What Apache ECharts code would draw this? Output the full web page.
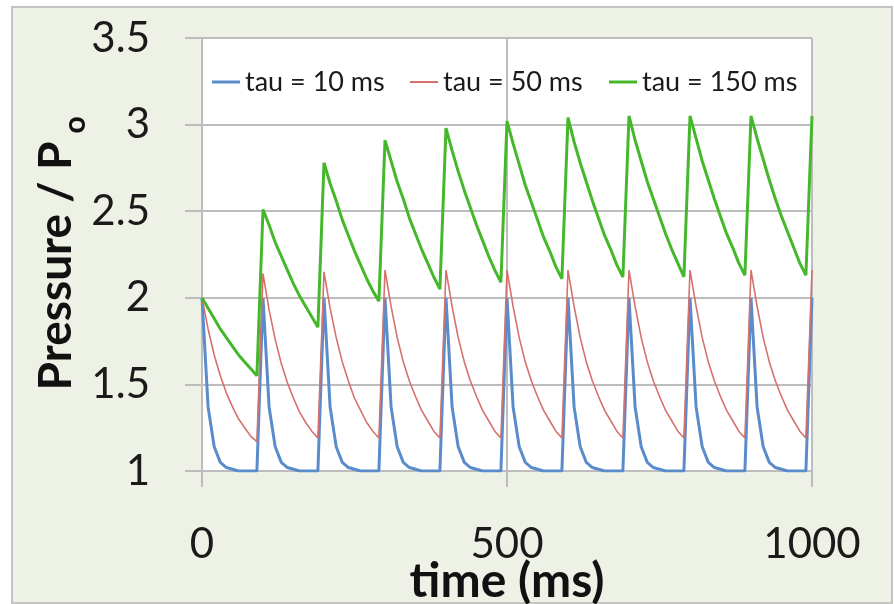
<!DOCTYPE html>
<html>
<head>
<meta charset="utf-8">
<script src="https://cdn.jsdelivr.net/npm/echarts@6/dist/echarts.min.js"></script>
<style>
html,body{margin:0;padding:0;background:#ffffff;}
#chart{width:894px;height:604px;}
</style>
</head>
<body>
<div id="chart"></div>
<script>
// time samples (ms)
var time = [0,10,20,30,40,50,60,70,80,90,100,110,120,130,140,150,160,170,180,190,200,210,220,230,240,250,260,270,280,290,300,310,320,330,340,350,360,370,380,390,400,410,420,430,440,450,460,470,480,490,500,510,520,530,540,550,560,570,580,590,600,610,620,630,640,650,660,670,680,690,700,710,720,730,740,750,760,770,780,790,800,810,820,830,840,850,860,870,880,890,900,910,920,930,940,950,960,970,980,990,1000];

var seriesNames = ['tau = 10 ms', 'tau = 50 ms', 'tau = 150 ms'];

var tau10 = [
2.00,1.37,1.14,1.05,1.02,1.01,1.00,1.00,1.00,1.00,
2.00,1.37,1.14,1.05,1.02,1.01,1.00,1.00,1.00,1.00,
2.00,1.37,1.14,1.05,1.02,1.01,1.00,1.00,1.00,1.00,
2.00,1.37,1.14,1.05,1.02,1.01,1.00,1.00,1.00,1.00,
2.00,1.37,1.14,1.05,1.02,1.01,1.00,1.00,1.00,1.00,
2.00,1.37,1.14,1.05,1.02,1.01,1.00,1.00,1.00,1.00,
2.00,1.37,1.14,1.05,1.02,1.01,1.00,1.00,1.00,1.00,
2.00,1.37,1.14,1.05,1.02,1.01,1.00,1.00,1.00,1.00,
2.00,1.37,1.14,1.05,1.02,1.01,1.00,1.00,1.00,1.00,
2.00,1.37,1.14,1.05,1.02,1.01,1.00,1.00,1.00,1.00,
2.00];

var tau50 = [
2.00,1.82,1.67,1.55,1.45,1.37,1.30,1.25,1.20,1.17,
2.14,1.93,1.76,1.62,1.51,1.42,1.34,1.28,1.23,1.19,
2.15,1.94,1.77,1.63,1.52,1.42,1.35,1.28,1.23,1.19,
2.16,1.95,1.77,1.63,1.52,1.43,1.35,1.29,1.23,1.19,
2.16,1.95,1.77,1.63,1.52,1.43,1.35,1.29,1.23,1.19,
2.16,1.95,1.77,1.63,1.52,1.43,1.35,1.29,1.23,1.19,
2.16,1.95,1.77,1.63,1.52,1.43,1.35,1.29,1.23,1.19,
2.16,1.95,1.77,1.63,1.52,1.43,1.35,1.29,1.23,1.19,
2.16,1.95,1.77,1.63,1.52,1.43,1.35,1.29,1.23,1.19,
2.16,1.95,1.77,1.63,1.52,1.43,1.35,1.29,1.23,1.19,
2.16];

var tau150 = [
2.00,1.94,1.88,1.82,1.77,1.72,1.67,1.63,1.59,1.55,
2.51,2.42,2.32,2.24,2.16,2.08,2.01,1.95,1.89,1.83,
2.78,2.66,2.56,2.45,2.36,2.27,2.19,2.11,2.04,1.98,
2.91,2.79,2.67,2.57,2.46,2.37,2.28,2.20,2.12,2.05,
2.98,2.85,2.73,2.62,2.52,2.42,2.33,2.24,2.16,2.09,
3.02,2.89,2.77,2.65,2.55,2.45,2.35,2.27,2.18,2.11,
3.04,2.90,2.78,2.67,2.56,2.46,2.36,2.28,2.19,2.12,
3.05,2.91,2.79,2.67,2.57,2.47,2.37,2.28,2.20,2.12,
3.05,2.92,2.79,2.68,2.57,2.47,2.37,2.29,2.20,2.13,
3.05,2.92,2.80,2.68,2.57,2.47,2.38,2.29,2.20,2.13,
3.05];

var xTitle = 'time (ms)';
var yTitle = 'Pressure / P';
var yTitleSub = 'o';

function pairs(vals){ return time.map(function(t,i){ return [t, vals[i]]; }); }

var colors = ['#5a8ccc', '#d6706c', '#44b82a'];
var widths = [3, 1.6, 3];
var allVals = [tau10, tau50, tau150];

var chart = echarts.init(document.getElementById('chart'), null, {renderer:'canvas'});
var gridCol = '#bdbdbd';
var option = {
  backgroundColor: 'transparent',
  animation: false,
  graphic: [
    {type:'rect', z:-10, shape:{x:12, y:7, width:880, height:596},
     style:{fill:'#eef2e6', stroke:'#c4c4c4', lineWidth:2}},
    {type:'text', x:56, y:266, rotation: Math.PI/2, z:10,
     style:{text: yTitle, font:'bold 46px Lato', fill:'#111', align:'center', verticalAlign:'middle'}},
    {type:'text', x:75, y:125, rotation: Math.PI/2, z:10,
     style:{text: yTitleSub, font:'bold 30px Lato', fill:'#111', align:'center', verticalAlign:'middle'}}
  ],
  grid: {left:202, right:82, top:38, bottom:133, show:true, backgroundColor:'#ffffff', borderWidth:0,
         containLabel:false, outerBoundsMode:'none'},
  legend: seriesNames.map(function(n, i){
    return {data:[n], left:[212, 410, 609][i], top:68, padding:0, itemWidth:28, itemHeight:[3,2,3][i], itemGap:4,
      icon:'rect',
      textStyle:{fontFamily:'Lato', fontSize:27, color:'#1a1a1a', lineHeight:28}};
  }),
  xAxis: {
    type:'value', min:0, max:1000, interval:500,
    name: xTitle, nameLocation:'middle', nameGap:87, nameMoveOverlap:false,
    nameTextStyle:{fontFamily:'Lato', fontWeight:'bold', fontSize:48, color:'#111'},
    axisLine:{show:true, lineStyle:{color:gridCol, width:2}},
    axisTick:{show:true, length:16, lineStyle:{color:gridCol, width:2}},
    axisLabel:{fontFamily:'Lato', fontSize:42, color:'#1a1a1a', margin:52,
      formatter:function(v){ return String(v); }},
    splitLine:{show:true, lineStyle:{color:gridCol, width:2}}
  },
  yAxis: {
    type:'value', min:1, max:3.5, interval:0.5,
    axisLine:{show:true, lineStyle:{color:gridCol, width:2}},
    axisTick:{show:true, length:17, lineStyle:{color:gridCol, width:2}},
    axisLabel:{fontFamily:'Lato', fontSize:42, color:'#1a1a1a', margin:52},
    splitLine:{show:true, lineStyle:{color:gridCol, width:2}}
  },
  series: seriesNames.map(function(n, i){
    return {name:n, type:'line', data:pairs(allVals[i]), showSymbol:false, symbol:'none',
      lineStyle:{color:colors[i], width:widths[i]}, itemStyle:{color:colors[i]}, z:2+i};
  })
};
chart.setOption(option);
</script>
</body>
</html>
